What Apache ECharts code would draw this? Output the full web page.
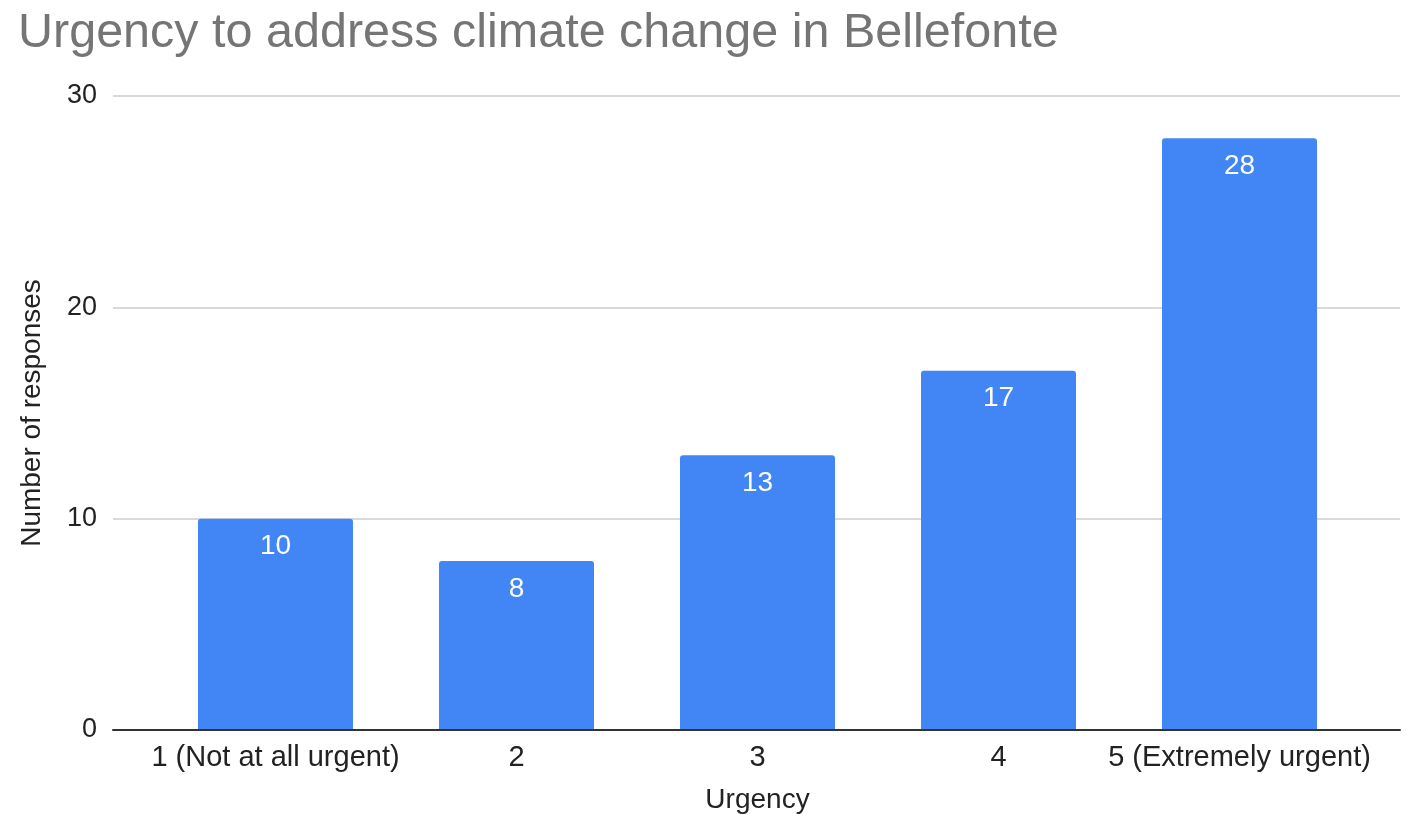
<!DOCTYPE html>
<html><head><meta charset="utf-8">
<script src="https://cdn.jsdelivr.net/npm/echarts@6/dist/echarts.min.js"></script>
<style>html,body{margin:0;padding:0;background:#fff}#c{width:1420px;height:814px}</style>
</head><body><div id="c"></div>
<script>
const categories = ['1 (Not at all urgent)', '2', '3', '4', '5 (Extremely urgent)'];
const responses = [10, 8, 13, 17, 28];
const yTicks = [0, 10, 20, 30];

const FONT = '"Liberation Sans", Arial, sans-serif';
const chart = echarts.init(document.getElementById('c'));
chart.setOption({
  animation: false,
  title: {
    text: 'Urgency to address climate change in Bellefonte',
    left: 13, top: 4,
    textStyle: { fontFamily: FONT, fontSize: 48.5, fontWeight: 'normal', color: '#757575' }
  },
  grid: [
    { left: 113, right: 20, top: 96, bottom: 84, containLabel: false, outerBoundsMode: 'none' },
    { left: 155, right: 60, top: 96, bottom: 84, containLabel: false, outerBoundsMode: 'none' }
  ],
  xAxis: [
    { gridIndex: 0, type: 'value', min: 0, max: 1, show: true,
      axisLine: { show: true, onZero: false, lineStyle: { color: '#333', width: 2 } },
      axisTick: { show: false }, axisLabel: { show: false }, splitLine: { show: false }, z: 10 },
    { gridIndex: 1, type: 'category', data: categories,
      axisLine: { show: false }, axisTick: { show: false },
      axisLabel: { fontFamily: FONT, fontSize: 29, color: '#222', margin: 13, interval: 0 },
      name: 'Urgency', nameLocation: 'middle', nameGap: 56,
      nameTextStyle: { fontFamily: FONT, fontSize: 28, color: '#222' } }
  ],
  yAxis: [
    { gridIndex: 0, type: 'value', min: 0, max: 30, interval: 10,
      axisLine: { show: false }, axisTick: { show: false },
      axisLabel: { fontFamily: FONT, fontSize: 27, color: '#222', margin: 16, padding: [4, 0, 0, 0],
        formatter: v => yTicks.includes(v) ? String(v) : '' },
      splitLine: { lineStyle: { color: '#cccccc', width: 1.5 } },
      name: 'Number of responses', nameLocation: 'middle', nameGap: 67, nameRotate: 90,
      nameTextStyle: { fontFamily: FONT, fontSize: 28, color: '#222' } },
    { gridIndex: 1, type: 'value', min: 0, max: 30, interval: 10, show: false,
      splitLine: { show: false } }
  ],
  series: [
    { type: 'bar', xAxisIndex: 1, yAxisIndex: 1, data: responses,
      barWidth: 155,
      itemStyle: { color: '#4285F4', borderRadius: [3, 3, 0, 0] },
      label: { show: true, position: 'insideTop', distance: 14,
        fontFamily: FONT, fontSize: 28, color: '#fff' } }
  ]
});
</script></body></html>
